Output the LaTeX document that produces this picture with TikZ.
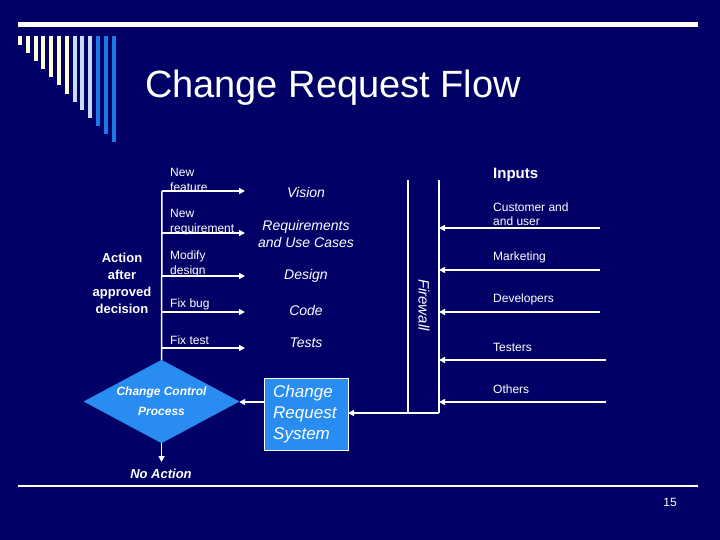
\documentclass[tikz,border=0pt]{standalone}
\usepackage{fontspec}
\setmainfont{Liberation Sans}
\usetikzlibrary{arrows.meta,shapes.geometric}
\definecolor{bg}{RGB}{0,0,102}
\definecolor{fillblue}{RGB}{40,140,240}
\definecolor{cream}{RGB}{255,255,215}
\definecolor{lblue}{RGB}{200,220,250}
\definecolor{mblue}{RGB}{30,120,230}
\tikzset{
  fs/.style={font=\fontsize{#1}{#1}\selectfont},
  lbl/.style={text=white,fs=12,anchor=west,inner sep=0pt},
  itl/.style={text=white,fs=14,font=\fontsize{14}{16}\selectfont\itshape,inner sep=0pt,align=center},
  wline/.style={draw=white,line width=1.5pt},
  arr/.style={wline,-{Triangle[length=6pt,width=6pt]}},
}
\begin{document}
\begin{tikzpicture}[x=1pt,y=-1pt]
\fill[bg] (0,0) rectangle (720,540);
\useasboundingbox (0,0) rectangle (720,540);
% decoration
\fill[white] (18,22) rectangle (698,27);
\foreach \i in {0,...,12}{
  \pgfmathsetmacro{\xx}{18+7.8*\i}
  \pgfmathsetmacro{\yy}{45+8.1*\i}
  \ifnum\i<7 \def\cc{cream}\else\ifnum\i<10 \def\cc{lblue}\else\def\cc{mblue}\fi\fi
  \fill[\cc] (\xx,36) rectangle ({\xx+4},\yy);
}
\fill[white] (18,484.5) rectangle (698,487);
\node[text=white,fs=38,inner sep=0pt] (title) at (333,88) {Change Request Flow};
\node[text=white,fs=12,inner sep=0pt] (pg) at (670,502) {15};

% left branch
\coordinate (vtop) at (162,191);
\node[diamond,fill=fillblue,draw=fillblue,minimum width=155pt,minimum height=83pt,inner sep=0pt,aspect=1.87] (ccp) at (161.5,401.5) {};
\node[text=white,font=\fontsize{12}{20}\selectfont\bfseries\itshape,align=center] at (ccp.center) {Change Control\\Process};
\draw[wline] (vtop) -- (ccp.north);
\foreach \y/\n in {191/a,233/b,276/c,312/d,348/e}{
  \coordinate (s\n) at (162,\y);
  \coordinate (t\n) at (245,\y);
  \draw[arr] (s\n) -- (t\n);
}
\node[lbl,align=left,font=\fontsize{12}{15}\selectfont] at (170,180) {New\\feature};
\node[lbl,align=left,font=\fontsize{12}{15}\selectfont] at (170,222) {New\\requirement};
\node[lbl,align=left,font=\fontsize{12}{15}\selectfont] at (170,264) {Modify\\design};
\node[lbl] at (170,304) {Fix bug};
\node[lbl] at (170,340) {Fix test};
\node[text=white,font=\fontsize{13}{17}\selectfont\bfseries,align=center,inner sep=0pt] (act) at (122,283.5) {Action\\after\\approved\\decision};

\node[itl] (vis) at (306,192) {Vision};
\node[itl,font=\fontsize{14}{17}\selectfont\itshape] (req) at (306,234) {Requirements\\and Use Cases};
\node[itl] (des) at (306,276) {Design};
\node[itl] (code) at (306,310) {Code};
\node[itl] (tst) at (306,343) {Tests};

\coordinate (na) at (161.5,462);
\draw[arr] (ccp.south) -- (na);
\node[text=white,font=\fontsize{13}{15}\selectfont\bfseries\itshape,inner sep=0pt] (noact) at (161,474) {No Action};

% CRS box
\node[draw=white,line width=0.6pt,fill=fillblue,minimum width=84pt,minimum height=72pt,anchor=north west,inner sep=0pt] (crs) at (264,378) {};
\node[text=white,font=\fontsize{17}{21}\selectfont\itshape,align=left,anchor=west,inner sep=0pt] at (273,414) {Change\\Request\\System};
\draw[arr] (crs.west |- 0,402) -- (ccp.east |- 0,402);

% firewall
\coordinate (fl1) at (408,180);
\coordinate (fl2) at (408,413);
\coordinate (fr1) at (439,180);
\coordinate (fr2) at (439,413);
\draw[wline] (fl1) -- (fl2);
\draw[wline] (fr1) -- (fr2);
\coordinate (crsin) at (348,413);
\draw[arr] (fr2) -- (crsin);
\node[text=white,font=\fontsize{15}{15}\selectfont\itshape,rotate=-90,inner sep=0pt] (fw) at (424,305) {Firewall};

% inputs
\foreach \y/\x/\n in {228/600/a,270/600/b,312/600/c,360/606/d,402/606/e}{
  \coordinate (i\n) at (\x,\y);
  \coordinate (j\n) at (439,\y);
  \draw[arr] (i\n) -- (j\n);
}
\node[text=white,font=\fontsize{15}{15}\selectfont\bfseries,anchor=west,inner sep=0pt] (inp) at (493,175) {Inputs};
\node[lbl,align=left,font=\fontsize{12}{14}\selectfont] at (493,214) {Customer and\\and user};
\node[lbl] at (493,257) {Marketing};
\node[lbl] at (493,299) {Developers};
\node[lbl] at (493,347) {Testers};
\node[lbl] at (493,389) {Others};
\end{tikzpicture}
\end{document}
